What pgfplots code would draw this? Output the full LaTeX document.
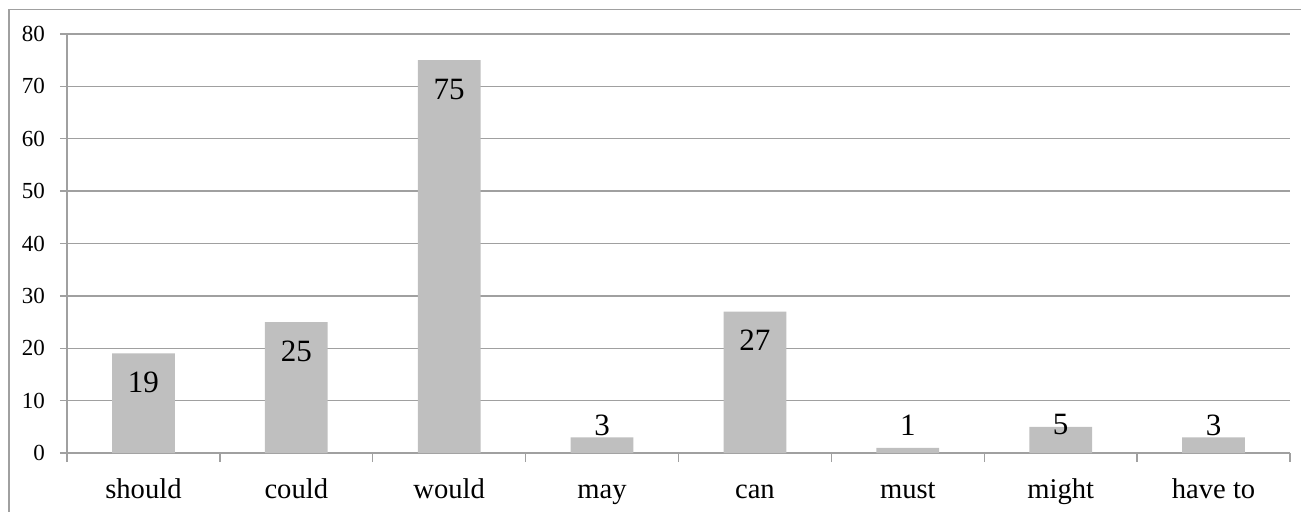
\documentclass[border=0pt]{standalone}
\usepackage{pgfplots}
\pgfplotsset{compat=1.18}
\usepackage{fontspec}
\setmainfont{Liberation Serif}
\definecolor{barc}{HTML}{BFBFBF}
\definecolor{gridc}{HTML}{A0A0A0}
\definecolor{framec}{HTML}{A0A0A0}
\begin{document}
\begin{tikzpicture}
\begin{axis}[
  at={(0,0)}, anchor=south west,
  width=611.5pt, height=209.5pt, scale only axis,
  xmin=-0.5, xmax=7.5, ymin=0, ymax=80,
  axis x line*=bottom, axis y line*=left,
  axis line style={draw=gridc, line width=0.65pt},
  ytick={0,10,...,80},
  ymajorgrids, grid style={draw=gridc, line width=0.65pt},
  xtick={0,...,7},
  xticklabels={should,could,would,may,can,must,might,have to},
  minor xtick={-0.5,0.5,...,7.5},
  tick align=outside,
  major tick length=3.5pt,
  minor tick length=4.5pt,
  x tick style={draw=none},
  minor x tick style={draw=gridc, line width=0.65pt},
  y tick style={draw=gridc, line width=0.65pt},
  /pgf/number format/assume math mode=true,
  yticklabel style={font=\fontsize{11.5}{13}\selectfont, text=black, xshift=-4pt},
  xticklabel style={font=\fontsize{14.3}{16}\selectfont, text=black, anchor=base, yshift=-19pt},
  clip=false,
]
\addplot[ybar, bar width=0.41, fill=barc, draw=none] coordinates {
  (0,19) (1,25) (2,75) (3,3) (4,27) (5,1) (6,5) (7,3)
};
\addplot[draw=none, mark=none,
  nodes near coords, point meta=explicit symbolic,
  every node near coord/.append style={anchor=center, font=\fontsize{15.5}{18}\selectfont, text=black, inner sep=0pt}]
  table[meta=lab] {
x y lab
0 13.46 19
1 19.46 25
2 69.46 75
3 5.35 3
4 21.46 27
5 5.35 1
6 5.35 5
7 5.35 3
};
\end{axis}
\draw[framec, line width=0.7pt] (-29pt,-40pt) -- (-29pt,221.75pt) -- (630pt,221.75pt);
\pgfresetboundingbox
\useasboundingbox (-33.5pt,-29pt) rectangle (617pt,226.5pt);
\end{tikzpicture}
\end{document}
